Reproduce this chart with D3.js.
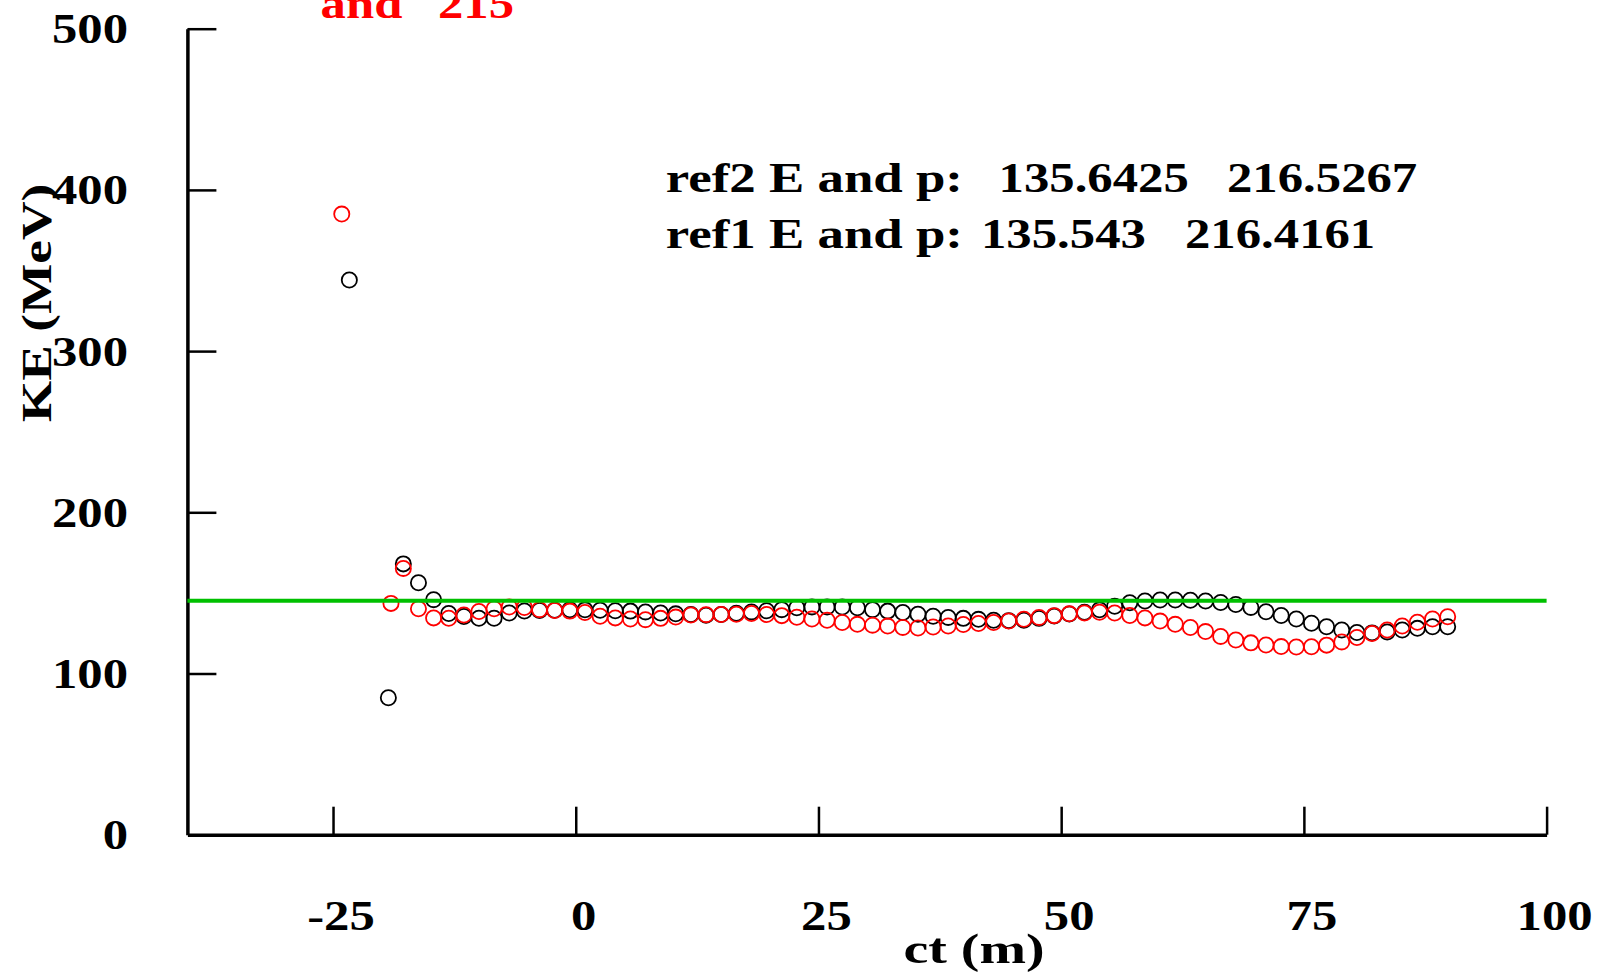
<!DOCTYPE html>
<html>
<head>
<meta charset="utf-8">
<script src="https://cdn.jsdelivr.net/npm/d3@7"></script>
<style>
  html, body { margin: 0; padding: 0; background: #fff; }
  svg { display: block; }
</style>
</head>
<body>
<svg id="chart" width="1606" height="977"></svg>
<script>
// ct positions (m) of the sampled track points
const ctGrid = [
  -17.76, -16.20, -14.64, -13.08, -11.52, -9.97, -8.41, -6.85, -5.29, -3.73,
  -2.17, -0.61, 0.95, 2.51, 4.07, 5.63, 7.18, 8.74, 10.30, 11.86,
  13.42, 14.98, 16.54, 18.10, 19.66, 21.22, 22.77, 24.33, 25.89, 27.45,
  29.01, 30.57, 32.13, 33.69, 35.25, 36.81, 38.36, 39.92, 41.48, 43.04,
  44.60, 46.16, 47.72, 49.28, 50.84, 52.40, 53.95, 55.51, 57.07, 58.63,
  60.19, 61.75, 63.31, 64.87, 66.43, 67.99, 69.54, 71.10, 72.66, 74.22,
  75.78, 77.34, 78.90, 80.46, 82.02, 83.58, 85.13, 86.69, 88.25, 89.81
];

// kinetic energy (MeV), black series
const keBlack = [
  168.0, 156.3, 145.8, 137.2, 135.4, 134.3, 134.3, 137.5, 138.8, 139.1,
  139.2, 139.5, 139.5, 139.2, 138.9, 138.7, 138.2, 137.5, 137.0, 136.6,
  136.2, 136.6, 137.4, 138.2, 138.9, 139.6, 140.8, 141.3, 141.3, 141.2,
  140.8, 139.6, 138.7, 137.8, 136.8, 135.5, 134.8, 134.2, 133.6, 133.0,
  132.8, 133.1, 134.2, 135.6, 136.9, 138.0, 139.5, 141.7, 143.9, 145.0,
  145.6, 145.6, 145.4, 145.0, 144.0, 142.8, 141.0, 138.3, 136.0, 133.8,
  131.2, 129.0, 127.0, 125.4, 125.2, 125.8, 127.0, 128.0, 129.0, 129.0
];

// kinetic energy (MeV), red series
const keRed = [
  165.2, 140.2, 134.5, 134.3, 136.3, 138.5, 140.2, 141.2, 140.9, 139.6,
  139.1, 138.7, 137.8, 135.5, 134.5, 133.8, 133.4, 134.2, 135.0, 136.3,
  136.5, 136.6, 136.8, 137.2, 136.6, 135.9, 134.9, 133.8, 133.0, 131.6,
  130.5, 130.0, 129.4, 128.6, 128.2, 128.8, 129.5, 130.4, 131.0, 131.6,
  132.6, 133.7, 134.8, 135.9, 137.0, 137.6, 138.0, 137.5, 136.0, 134.5,
  132.5, 130.5, 128.5, 126.0, 123.0, 120.8, 119.0, 117.7, 116.7, 116.4,
  116.6, 117.6, 119.6, 122.3, 124.8, 127.0, 129.5, 131.8, 133.8, 135.2
];

// first samples before the track settles
const earlyBlackCt = [-23.32, -19.30];
const earlyBlackKE = [344.1, 85.0];
const earlyRedCt = [-24.10, -19.03];
const earlyRedKE = [385.0, 143.5];

// reference kinetic energy level
const refLevel = 145.2;

const xTicks = [-25, 0, 25, 50, 75, 100];
const yTicks = [100, 200, 300, 400, 500];
const yLabels = [0, 100, 200, 300, 400, 500];

const titleTail = ["and", "215"];
const infoLines = [
  ["ref2 E and p:", "135.6425", "216.5267"],
  ["ref1 E and p:", "135.543", "216.4161"]
];

const FONT = "'Liberation Serif', 'Times New Roman', serif";
const FS = 43;
const SX = 1.18;

const svg = d3.select("#chart");
svg.append("rect").attr("width", 1606).attr("height", 977).attr("fill", "#fff");

const x = d3.scaleLinear().domain([-40, 100]).range([187.4, 1546.6]);
const y = d3.scaleLinear().domain([0, 500]).range([834.7, 28.7]);

// text helper: horizontally widened bold serif
function label(parent, tx, ty, str, anchor, color, rot, sx) {
  const g = parent.append("g")
    .attr("transform", `translate(${tx},${ty})` + (rot ? ` rotate(${rot})` : "") + ` scale(${sx || SX},1)`);
  g.append("text")
    .attr("x", 0).attr("y", 0)
    .attr("text-anchor", anchor)
    .attr("font-family", FONT)
    .attr("font-weight", "bold")
    .attr("font-size", FS)
    .attr("fill", color || "#000")
    .text(str);
  return g;
}

// x axis with inward ticks
const xAxis = d3.axisBottom(x).tickValues(xTicks).tickSizeInner(-28).tickSizeOuter(0);
const gx = svg.append("g").attr("transform", `translate(0,${y(0)})`).call(xAxis);
gx.select(".domain").attr("stroke", "#000").attr("stroke-width", 3.5);
gx.selectAll(".tick line").attr("stroke", "#000").attr("stroke-width", 2.5);
gx.selectAll(".tick text").remove();

// y axis with inward ticks
const yAxis = d3.axisLeft(y).tickValues(yTicks).tickSizeInner(-29).tickSizeOuter(0);
const gy = svg.append("g").attr("transform", `translate(${x(-40)},0)`).call(yAxis);
gy.select(".domain").attr("stroke", "#000").attr("stroke-width", 3.5);
gy.selectAll(".tick line").attr("stroke", "#000").attr("stroke-width", 2.5);
gy.selectAll(".tick text").remove();

// tick labels
const labels = svg.append("g");
xTicks.forEach(t => label(labels, x(t) + 8, 930, String(t), "middle"));
yLabels.forEach(t => label(labels, 128, y(t) + 14.5, String(t), "end"));

// axis titles
label(svg, 974, 963, "ct (m)", "middle", "#000", 0, 1.3);
label(svg, 51, 303, "KE (MeV)", "middle", "#000", -90, 1.24);

// title tail (upper lines run off the top edge)
label(svg, 320.6, 18, titleTail[0], "start", "#ff0000");
label(svg, 438, 18, titleTail[1], "start", "#ff0000");

// energy / momentum annotations
const infoX = [[665.7, 998.6, 1227], [665.7, 981, 1185]];
const infoY = [191.5, 248];
infoLines.forEach((ln, i) => {
  ln.forEach((s, j) => label(svg, infoX[i][j], infoY[i], s, "start", "#000", 0, j === 0 ? 1.23 : SX));
});

// markers
const pts = svg.append("g").attr("fill", "none").attr("stroke-width", 1.8);
const blackPts = ctGrid.map((c, i) => [c, keBlack[i]])
  .concat(earlyBlackCt.map((c, i) => [c, earlyBlackKE[i]]));
const redPts = ctGrid.map((c, i) => [c, keRed[i]])
  .concat(earlyRedCt.map((c, i) => [c, earlyRedKE[i]]));

pts.append("g").attr("stroke", "#000")
  .selectAll("circle").data(blackPts).join("circle")
  .attr("cx", d => x(d[0])).attr("cy", d => y(d[1])).attr("r", 7.6);
pts.append("g").attr("stroke", "#ff0000")
  .selectAll("circle").data(redPts).join("circle")
  .attr("cx", d => x(d[0])).attr("cy", d => y(d[1])).attr("r", 7.6);

// reference level line
svg.append("line")
  .attr("x1", x(-40)).attr("x2", x(100))
  .attr("y1", y(refLevel)).attr("y2", y(refLevel))
  .attr("stroke", "#00c000").attr("stroke-width", 4);
</script>
</body>
</html>
